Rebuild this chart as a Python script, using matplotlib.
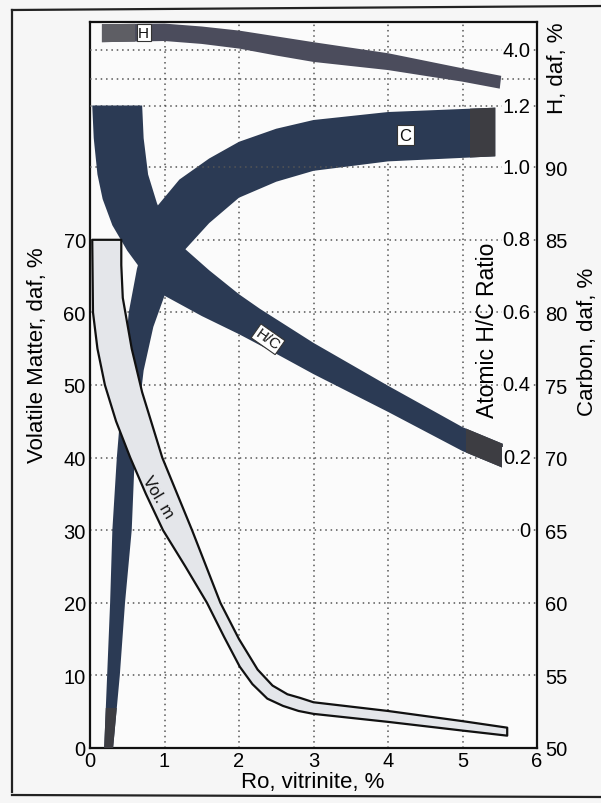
import matplotlib
matplotlib.use('Agg')
import matplotlib.pyplot as plt
from matplotlib.patches import Rectangle
from matplotlib.lines import Line2D
import matplotlib.transforms as mtransforms

plt.rcParams['font.family'] = ['Liberation Sans', 'DejaVu Sans']

# ---------------- data ----------------
# Volatile matter band, VM daf % vs Ro %
vol_upper_ro = [0.42, 0.42, 0.44, 0.56, 0.70, 0.97, 1.37, 1.75, 2.0, 2.25, 2.45, 2.65, 2.82, 3.0, 4.0, 5.0, 5.6]
vol_upper = [70, 66.5, 62, 55, 49, 40, 30, 20, 15, 10.8, 8.6, 7.4, 6.9, 6.3, 5.1, 3.7, 2.8]
vol_lower_ro = [0.03, 0.04, 0.10, 0.20, 0.35, 0.54, 0.75, 0.98, 1.28, 1.57, 1.8, 2.01, 2.18, 2.38, 2.59, 2.8, 3.0, 4.0, 5.0, 5.6]
vol_lower = [70, 60, 55, 50, 45, 40, 35, 30, 25, 20, 15.3, 11.2, 8.8, 6.8, 5.8, 5.1, 4.7, 3.6, 2.4, 1.7]

# Carbon band, C daf % vs Ro %
c_outer_ro = [0.19, 0.23, 0.27, 0.30, 0.36, 0.40, 0.45, 0.52, 0.63, 0.75, 0.9, 1.2, 1.6, 2.0, 2.5, 3.0, 4.0, 5.44]
c_outer = [50, 55, 60, 65, 70, 72.5, 76, 80, 83, 85.25, 87.3, 89.15, 90.6, 91.75, 92.65, 93.25, 93.8, 94.1]
c_inner_ro = [0.31, 0.40, 0.47, 0.56, 0.60, 0.64, 0.72, 0.85, 1.0, 1.28, 1.6, 2.0, 2.5, 3.0, 4.0, 5.44]
c_inner = [50, 55, 60, 65, 70, 72.5, 76, 79, 81.15, 84.35, 86.15, 87.9, 89.0, 89.75, 90.4, 90.75]

# Atomic H/C ratio band vs Ro %
hc_outer_ro = [0.03, 0.05, 0.10, 0.17, 0.30, 0.50, 0.75, 1.0, 1.5, 2.0, 2.5, 3.0, 4.0, 5.0, 5.54]
hc_outer = [1.17, 1.08, 0.98, 0.912, 0.84, 0.77, 0.70, 0.646, 0.59, 0.54, 0.486, 0.43, 0.326, 0.218, 0.172]
hc_inner_ro = [0.70, 0.72, 0.78, 0.90, 1.05, 1.28, 1.6, 2.0, 2.28, 3.0, 4.0, 5.0, 5.54]
hc_inner = [1.17, 1.08, 0.98, 0.90, 0.83, 0.774, 0.716, 0.65, 0.61, 0.516, 0.398, 0.284, 0.238]

# Hydrogen band, H daf % vs Ro %
h_top_ro = [0.16, 1.0, 1.5, 2.0, 2.5, 3.0, 4.0, 5.0, 5.52]
h_top = [4.45, 4.46, 4.41, 4.34, 4.24, 4.14, 3.95, 3.69, 3.56]
h_bot_ro = [0.16, 1.0, 1.5, 2.0, 2.5, 3.0, 4.0, 5.0, 5.5]
h_bot = [4.14, 4.16, 4.11, 4.03, 3.91, 3.80, 3.66, 3.46, 3.34]

# tick labels
x_ticks = [0, 1, 2, 3, 4, 5, 6]
vm_ticks = [0, 10, 20, 30, 40, 50, 60, 70]
hc_ticks = [0, 0.2, 0.4, 0.6, 0.8, 1.0, 1.168]
hc_labels = ['0', '0.2', '0.4', '0.6', '0.8', '1.0', '1.2']
c_ticks = [50, 55, 60, 65, 70, 75, 80, 85, 90]
h_ticks = [4.0]
h_grid = [4.0, 3.5]

NAVY = '#2b3a54'
DGRAY = '#3d3d42'
HCOL = '#4b4c5c'
VOLFILL = '#e4e6ea'
GRIDC = '#555555'

fig = plt.figure(figsize=(6.01, 8.04), dpi=100, facecolor='#f6f6f6')
ax = fig.add_axes([90 / 601, 55 / 804, 447 / 601, 726 / 804])
ax.set_facecolor('#fbfbfb')
ax.set_xlim(0, 6)
ax.set_ylim(0, 100)
ax.set_xticks(x_ticks)
ax.set_yticks(vm_ticks)
ax.tick_params(length=0, labelsize=14.5)
ax.tick_params(axis='x', pad=2)
ax.tick_params(axis='y', pad=3)
for s in ax.spines.values():
    s.set_linewidth(1.6)
    s.set_color('#111111')

ax_c = ax.twinx()
ax_c.set_ylim(50, 100)
ax_hc = ax.twinx()
ax_hc.set_ylim(-0.6, 1.4)
ax_h = ax.twinx()
ax_h.set_ylim(4.0 - 96.1 / 8, 4.0 + 3.9 / 8)
ax_v = ax.twinx()
ax_v.set_ylim(0, 100)
for a in (ax_hc, ax_h, ax_v):
    a.set_yticks([])
    for s in a.spines.values():
        s.set_visible(False)
for s in ax_c.spines.values():
    s.set_visible(False)
ax_c.set_yticks(c_ticks)
ax_c.tick_params(length=0, labelsize=14.5, pad=6)

# grid (dotted)
gkw = dict(color=GRIDC, lw=1.1, ls=(0, (1, 2.5)), zorder=0.5)
for xv in x_ticks[1:-1]:
    ax.axvline(xv, **gkw)
for v in vm_ticks[1:]:
    ax.axhline(v, **gkw)
ax_hc.axhline(1.0, **gkw)
ax_hc.axhline(1.168, **gkw)
for h in h_grid:
    ax_h.axhline(h, **gkw)


def band(axis, xo, yo, xi, yi, color, z=2, clip=None):
    xs = list(xo) + list(xi)[::-1]
    ys = list(yo) + list(yi)[::-1]
    p = axis.fill(xs, ys, color=color, lw=0, zorder=z)[0]
    if clip is not None:
        p.set_clip_path(clip)
    return p


# carbon band
band(ax_c, c_outer_ro, c_outer, c_inner_ro, c_inner, NAVY)
band(ax_c, c_outer_ro, c_outer, c_inner_ro, c_inner, DGRAY, z=2.1,
     clip=Rectangle((5.1, 0), 5, 200, transform=ax_c.transData))
band(ax_c, c_outer_ro, c_outer, c_inner_ro, c_inner, DGRAY, z=2.1,
     clip=Rectangle((0, 40), 6, 12.75, transform=ax_c.transData))
ax_c.text(4.23, 92.2, 'C', ha='center', va='center', fontsize=12, color='#111',
          bbox=dict(boxstyle='square,pad=0.15', fc='white', ec='#333', lw=0.8), zorder=5)

# H/C band
band(ax_hc, hc_outer_ro, hc_outer, hc_inner_ro, hc_inner, NAVY)
band(ax_hc, hc_outer_ro, hc_outer, hc_inner_ro, hc_inner, DGRAY, z=2.1,
     clip=Rectangle((5.05, -5), 5, 10, transform=ax_hc.transData))
ax_hc.text(2.39, 0.526, 'H/C', ha='center', va='center', fontsize=11, color='#111',
           rotation=-35, rotation_mode='anchor',
           bbox=dict(boxstyle='square,pad=0.1', fc='white', ec='#333', lw=0.8), zorder=5)

# H band
band(ax_h, h_top_ro, h_top, h_bot_ro, h_bot, HCOL)
band(ax_h, h_top_ro, h_top, h_bot_ro, h_bot, '#5e5e64', z=2.1,
     clip=Rectangle((0, 0), 0.6, 10, transform=ax_h.transData))
ax_h.text(0.72, 4.3, 'H', ha='center', va='center', fontsize=11, color='#111',
          bbox=dict(boxstyle='square,pad=0.1', fc='white', ec='#333', lw=0.8), zorder=5)

# volatile matter band
xs = vol_upper_ro + vol_lower_ro[::-1]
ys = vol_upper + vol_lower[::-1]
ax_v.fill(xs + [xs[0]], ys + [ys[0]], fc=VOLFILL, ec='#111111', lw=1.6, zorder=3,
          joinstyle='round')
ax_v.text(0.91, 34.7, 'Vol. m', ha='center', va='center', fontsize=12, color='#111',
          rotation=-59, zorder=5)

# inner scale labels (H/C and H), right-aligned just inside the right spine
tr_hc = mtransforms.blended_transform_factory(ax_hc.transAxes, ax_hc.transData)
for v, lab in zip(hc_ticks, hc_labels):
    ax_hc.text(0.986, v, lab, transform=tr_hc, ha='right', va='center', fontsize=14.5,
               zorder=6, bbox=dict(boxstyle='square,pad=0.05', fc='#fbfbfb', ec='none'))
tr_h = mtransforms.blended_transform_factory(ax_h.transAxes, ax_h.transData)
for v in h_ticks:
    ax_h.text(0.986, v, f'{v:.1f}', transform=tr_h, ha='right', va='center', fontsize=14.5,
              zorder=6, bbox=dict(boxstyle='square,pad=0.05', fc='#fbfbfb', ec='none'))

# axis titles
fig.text(313 / 601, 1 - 783 / 804, 'Ro, vitrinite, %', ha='center', va='center', fontsize=16)
fig.text(38 / 601, 1 - 355 / 804, 'Volatile Matter, daf, %', ha='center', va='center',
         rotation=90, fontsize=16)
fig.text(488 / 601, 1 - 330 / 804, 'Atomic H/C Ratio', ha='center', va='center',
         rotation=90, fontsize=16.5)
fig.text(588 / 601, 1 - 342 / 804, 'Carbon, daf, %', ha='center', va='center',
         rotation=90, fontsize=16)
fig.text(557 / 601, 1 - 68 / 804, 'H, daf, %', ha='center', va='center',
         rotation=90, fontsize=16)

# outer frame of the scanned figure
fig.add_artist(Line2D([12 / 601, 12 / 601], [1 - 793 / 804, 1 - 11 / 804], color='#222', lw=1.6))
fig.add_artist(Line2D([12 / 601, 1.0], [1 - 11 / 804, 1 - 7 / 804], color='#222', lw=1.6))
fig.add_artist(Line2D([12 / 601, 1.0], [1 - 796 / 804, 1 - 798 / 804], color='#222', lw=1.6))

fig.savefig('out.png', dpi=100, facecolor=fig.get_facecolor())
